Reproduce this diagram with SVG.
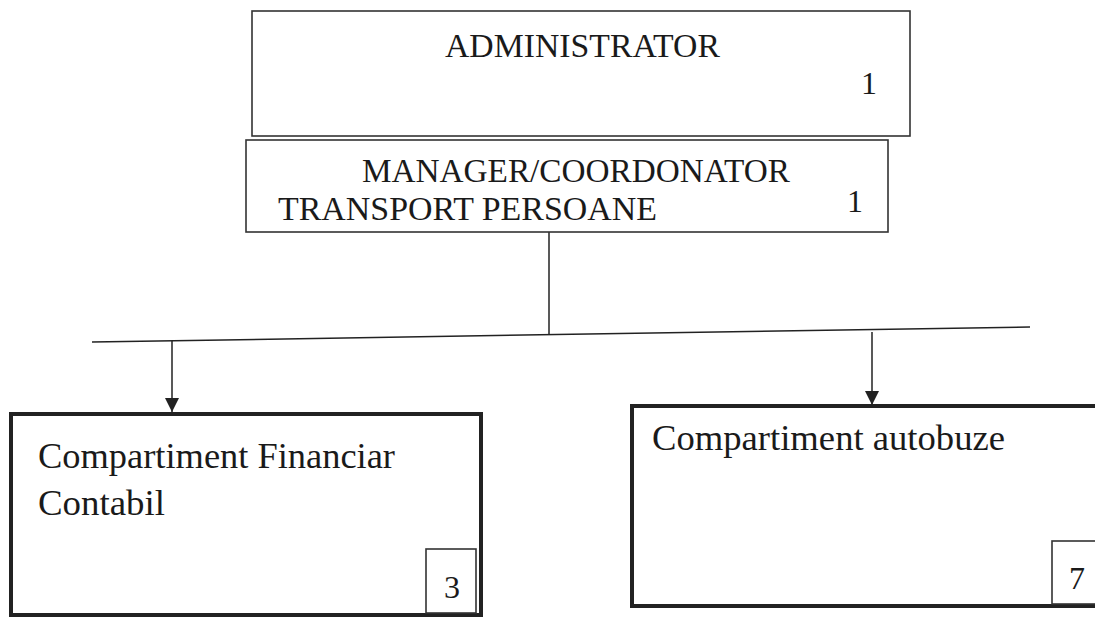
<svg xmlns="http://www.w3.org/2000/svg" width="1095" height="618" viewBox="0 0 1095 618">
<style>
.t{font-family:"Liberation Serif","Times New Roman",serif;fill:#1a1a1a}
.thin{fill:#fff;stroke:#333;stroke-width:1.6}
.thick{fill:#fff;stroke:#222;stroke-width:4}
.ln{stroke:#222;stroke-width:1.5;fill:none}
</style>
<defs>
<marker id="ah" viewBox="0 0 14 14" refX="14" refY="7" markerWidth="14" markerHeight="14" markerUnits="userSpaceOnUse" orient="auto">
<path d="M0,0 L14,7 L0,14 z" fill="#222"/>
</marker>
</defs>
<rect width="1095" height="618" fill="#fff"/>
<g id="connectors">
<line class="ln" x1="549" y1="232" x2="549" y2="334"/>
<line class="ln" x1="92" y1="342" x2="1030" y2="327"/>
<line class="ln" x1="172" y1="341" x2="172" y2="412" marker-end="url(#ah)"/>
<line class="ln" x1="872" y1="332" x2="872" y2="405" marker-end="url(#ah)"/>
</g>
<g id="administrator">
<rect class="thin" x="252" y="11" width="658" height="125"/>
<text class="t" x="445" y="57" font-size="33" textLength="275" lengthAdjust="spacingAndGlyphs">ADMINISTRATOR</text>
<text class="t" x="861" y="94" font-size="32">1</text>
</g>
<g id="manager">
<rect class="thin" x="246" y="140" width="642" height="92"/>
<text class="t" x="362" y="182" font-size="33" textLength="428" lengthAdjust="spacingAndGlyphs">MANAGER/COORDONATOR</text>
<text class="t" x="278" y="220" font-size="33" textLength="379" lengthAdjust="spacingAndGlyphs">TRANSPORT PERSOANE</text>
<text class="t" x="847" y="212" font-size="32">1</text>
</g>
<g id="financiar">
<rect class="thick" x="11" y="414" width="470" height="201"/>
<text class="t" x="38" y="468" font-size="36" textLength="357" lengthAdjust="spacingAndGlyphs">Compartiment Financiar</text>
<text class="t" x="38" y="515" font-size="36" textLength="127" lengthAdjust="spacingAndGlyphs">Contabil</text>
<rect class="thin" x="426" y="549" width="50" height="64"/>
<text class="t" x="444" y="598" font-size="32">3</text>
</g>
<g id="autobuze">
<rect class="thick" x="632" y="406" width="470" height="200"/>
<text class="t" x="652" y="450" font-size="36" textLength="353" lengthAdjust="spacingAndGlyphs">Compartiment autobuze</text>
<rect class="thin" x="1052" y="541" width="50" height="63"/>
<text class="t" x="1069" y="589" font-size="32">7</text>
</g>
</svg>
